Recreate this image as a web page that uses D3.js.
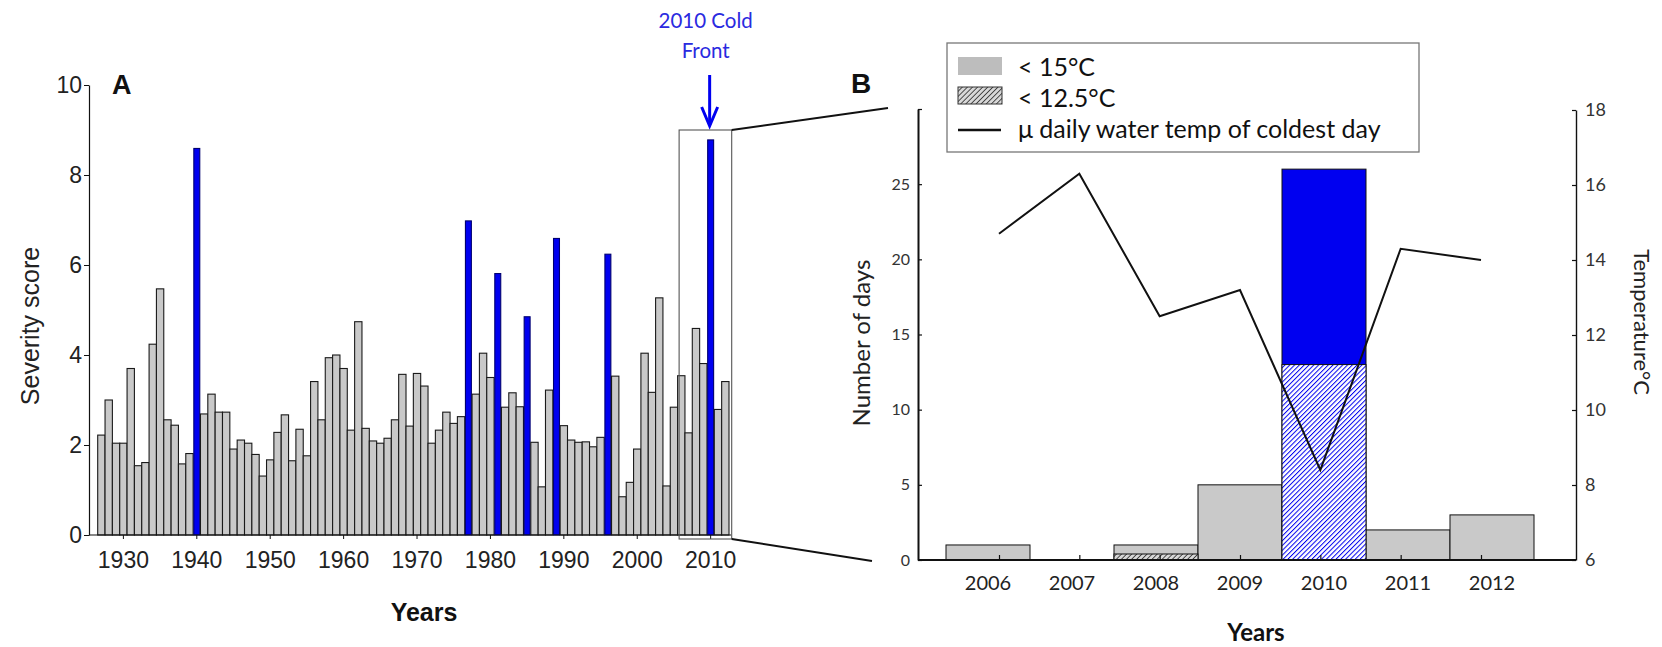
<!DOCTYPE html>
<html>
<head>
<meta charset="utf-8">
<script src="https://cdn.jsdelivr.net/npm/d3@7"></script>
<style>
  html, body { margin: 0; padding: 0; background: #fff; }
  svg { display: block; }
</style>
</head>
<body>
<svg id="fig" width="1662" height="647"></svg>
<script>
// ---- Panel A: annual cold-front severity score ----
const years = [1927, 1928, 1929, 1930, 1931, 1932, 1933, 1934, 1935, 1936, 1937, 1938, 1939,
  1940, 1941, 1942, 1943, 1944, 1945, 1946, 1947, 1948, 1949, 1950, 1951, 1952, 1953, 1954,
  1955, 1956, 1957, 1958, 1959, 1960, 1961, 1962, 1963, 1964, 1965, 1966, 1967, 1968, 1969,
  1970, 1971, 1972, 1973, 1974, 1975, 1976, 1977, 1978, 1979, 1980, 1981, 1982, 1983, 1984,
  1985, 1986, 1987, 1988, 1989, 1990, 1991, 1992, 1993, 1994, 1995, 1996, 1997, 1998, 1999,
  2000, 2001, 2002, 2003, 2004, 2005, 2006, 2007, 2008, 2009, 2010, 2011, 2012];
const severity = [2.22, 3.00, 2.04, 2.04, 3.70, 1.54, 1.61, 4.24, 5.47, 2.56, 2.44, 1.58, 1.81,
  8.59, 2.69, 3.13, 2.73, 2.73, 1.91, 2.11, 2.04, 1.79, 1.31, 1.67, 2.28, 2.67, 1.65, 2.35,
  1.76, 3.41, 2.56, 3.94, 4.00, 3.70, 2.33, 4.74, 2.37, 2.09, 2.04, 2.15, 2.56, 3.57, 2.42,
  3.59, 3.31, 2.04, 2.33, 2.73, 2.48, 2.63, 6.98, 3.13, 4.04, 3.50, 5.81, 2.84, 3.16, 2.85,
  4.85, 2.06, 1.07, 3.22, 6.59, 2.43, 2.11, 2.06, 2.07, 1.96, 2.17, 6.24, 3.53, 0.85, 1.17,
  1.91, 4.04, 3.17, 5.27, 1.09, 2.84, 3.54, 2.27, 4.59, 3.81, 8.78, 2.79, 3.41];
const frontYears = [1940, 1977, 1981, 1985, 1989, 1996, 2010];
const severityTicks = [0, 2, 4, 6, 8, 10];
const decadeTicks = [1930, 1940, 1950, 1960, 1970, 1980, 1990, 2000, 2010];
const zoomYears = [2006, 2012];

// ---- Panel B: cold days per year and coldest-day water temperature ----
const yearsB = [2006, 2007, 2008, 2009, 2010, 2011, 2012];
const daysBelow15 = [1, 0, 1, 5, 26, 2, 3];
const daysBelow125 = [0, 0, 0.4, 0, 13, 0, 0];
const coldestTemp = [14.7, 16.3, 12.5, 13.2, 8.4, 14.3, 14.0];
const dayTicks = [0, 5, 10, 15, 20, 25, 30];
const tempTicks = [6, 8, 10, 12, 14, 16, 18];
const legendLabels = ["< 15°C", "< 12.5°C", "μ daily water temp of coldest day"];

const BLUE = "#0000f0";
const GREY = "#c9c9c9";
const arial = "'Liberation Sans', Arial, sans-serif";
const calib = "Lato, 'Open Sans', sans-serif";

const svg = d3.select("#fig");
svg.append("rect").attr("width", 1662).attr("height", 647).attr("fill", "#fff");

// hatch patterns
const defs = svg.append("defs");
function hatch(id, color, bg, step, w) {
  const p = defs.append("pattern").attr("id", id)
    .attr("patternUnits", "userSpaceOnUse")
    .attr("width", step).attr("height", step)
    .attr("patternTransform", "rotate(45)");
  p.append("rect").attr("width", step).attr("height", step).attr("fill", bg);
  p.append("line").attr("x1", 0).attr("y1", 0).attr("x2", 0).attr("y2", step)
    .attr("stroke", color).attr("stroke-width", w);
}
hatch("hatchBlue", BLUE, "#fff", 3.4, 2.0);
hatch("hatchBlack", "#111", "#d8d8d8", 3.6, 1.4);

// =================== Panel A ===================
const gA = svg.append("g");
const xA = d3.scaleBand().domain(years).range([97.7, 729]).padding(0);
const yA = d3.scaleLinear().domain([0, 10]).range([535, 85]);
const isFront = y => frontYears.includes(y);

gA.selectAll("rect.bar").data(years.map((y, i) => ({ year: y, v: severity[i] })))
  .join("rect")
  .attr("class", "bar")
  .attr("x", d => isFront(d.year) ? xA(d.year) + 0.7 : xA(d.year))
  .attr("width", d => isFront(d.year) ? xA.bandwidth() - 1.4 : xA.bandwidth())
  .attr("y", d => yA(d.v))
  .attr("height", d => yA(0) - yA(d.v))
  .attr("fill", d => isFront(d.year) ? BLUE : GREY)
  .attr("stroke", d => isFront(d.year) ? "#000070" : "#1a1a1a")
  .attr("stroke-width", 1.1);

// y axis
const axA = gA.append("g").attr("transform", "translate(89,0)")
  .call(d3.axisLeft(yA).tickValues(severityTicks).tickSize(5).tickSizeOuter(0).tickPadding(2));
axA.select(".domain").attr("stroke", "#111").attr("stroke-width", 1.2);
axA.selectAll(".tick line").attr("stroke", "#111");
axA.selectAll("text").attr("font-family", arial).attr("font-size", 23).attr("fill", "#222");

// x axis
gA.append("line").attr("x1", 89).attr("x2", 731).attr("y1", yA(0)).attr("y2", yA(0))
  .attr("stroke", "#111").attr("stroke-width", 1.2);
const axAx = gA.append("g").attr("transform", `translate(0,${yA(0)})`)
  .call(d3.axisBottom(xA).tickValues(decadeTicks).tickSize(4).tickPadding(13));
axAx.select(".domain").remove();
axAx.selectAll(".tick line").attr("stroke", "#111");
axAx.selectAll("text").attr("font-family", arial).attr("font-size", 23).attr("fill", "#222");

gA.append("text").attr("x", 424).attr("y", 621).attr("text-anchor", "middle")
  .attr("font-family", arial).attr("font-weight", "bold").attr("font-size", 25)
  .attr("fill", "#111").text("Years");
gA.append("text").attr("transform", "translate(39,326) rotate(-90)")
  .attr("text-anchor", "middle").attr("font-family", arial).attr("font-size", 25)
  .attr("fill", "#222").text("Severity score");
gA.append("text").attr("x", 112).attr("y", 94)
  .attr("font-family", arial).attr("font-weight", "bold").attr("font-size", 27)
  .attr("fill", "#111").text("A");

// zoom box around the years shown in panel B
const boxL = xA(zoomYears[0]) + 1.5, boxR = xA(zoomYears[1]) + xA.bandwidth() + 2.7;
const boxT = 130, boxB = yA(0) + 4;
gA.append("rect").attr("x", boxL).attr("y", boxT).attr("width", boxR - boxL).attr("height", boxB - boxT)
  .attr("fill", "none").attr("stroke", "#555").attr("stroke-width", 1.1);

// connectors to panel B
gA.append("line").attr("x1", boxR).attr("y1", boxT).attr("x2", 888).attr("y2", 108)
  .attr("stroke", "#111").attr("stroke-width", 2);
gA.append("line").attr("x1", boxR).attr("y1", boxB).attr("x2", 872).attr("y2", 561)
  .attr("stroke", "#111").attr("stroke-width", 2);

// annotation
const ax2010 = xA(2010) + xA.bandwidth() / 2 - 1;
gA.append("text").attr("x", ax2010 - 4).attr("y", 28).attr("text-anchor", "middle")
  .attr("font-family", calib).attr("font-size", 20.5).attr("fill", "#2a2ae0").text("2010 Cold");
gA.append("text").attr("x", ax2010 - 4).attr("y", 58).attr("text-anchor", "middle")
  .attr("font-family", calib).attr("font-size", 20.5).attr("fill", "#2a2ae0").text("Front");
gA.append("line").attr("x1", ax2010).attr("x2", ax2010).attr("y1", 75).attr("y2", 125)
  .attr("stroke", BLUE).attr("stroke-width", 3);
gA.append("path").attr("d", `M${ax2010 - 8},${107} L${ax2010},${126} L${ax2010 + 8},${107}`)
  .attr("fill", "none").attr("stroke", BLUE).attr("stroke-width", 3);

// =================== Panel B ===================
const gB = svg.append("g");
const xBar = d3.scaleBand().domain(yearsB).range([946, 1534]).padding(0);
const xPt = d3.scalePoint().domain(yearsB).range([999, 1481]);
const yDays = d3.scaleLinear().domain([0, 30]).range([560, 109]);
const yTemp = d3.scaleLinear().domain([6, 18]).range([560, 110]);

const rowsB = yearsB.map((y, i) => ({ year: y, d15: daysBelow15[i], d125: daysBelow125[i], t: coldestTemp[i] }));

gB.selectAll("rect.d15").data(rowsB.filter(d => d.d15 > 0)).join("rect")
  .attr("class", "d15")
  .attr("x", d => xBar(d.year)).attr("width", xBar.bandwidth())
  .attr("y", d => yDays(d.d15)).attr("height", d => yDays(0) - yDays(d.d15))
  .attr("fill", d => isFront(d.year) ? BLUE : GREY)
  .attr("stroke", "#111").attr("stroke-width", 1);

gB.selectAll("rect.d125").data(rowsB.filter(d => d.d125 > 0)).join("rect")
  .attr("class", "d125")
  .attr("x", d => xBar(d.year)).attr("width", xBar.bandwidth())
  .attr("y", d => yDays(d.d125)).attr("height", d => yDays(0) - yDays(d.d125))
  .attr("fill", d => isFront(d.year) ? "url(#hatchBlue)" : "url(#hatchBlack)")
  .attr("stroke", "#111").attr("stroke-width", 1);

// temperature line
gB.append("path").datum(rowsB)
  .attr("d", d3.line().x(d => xPt(d.year)).y(d => yTemp(d.t)))
  .attr("fill", "none").attr("stroke", "#111").attr("stroke-width", 2);

// left axis (days)
const axDays = gB.append("g").attr("transform", "translate(918,0)")
  .call(d3.axisRight(yDays).tickValues(dayTicks).tickSize(4).tickSizeOuter(0)
    .tickFormat(d => d === 30 ? "" : d));
axDays.select(".domain").attr("stroke", "#111").attr("stroke-width", 2);
axDays.selectAll(".tick line").attr("stroke", "#111").attr("stroke-width", 1.2);
axDays.selectAll("text").attr("x", -8).attr("text-anchor", "end")
  .attr("font-family", calib).attr("font-size", 16).attr("fill", "#333");

// right axis (temperature)
const axTemp = gB.append("g").attr("transform", "translate(1576,0)")
  .call(d3.axisLeft(yTemp).tickValues(tempTicks).tickSize(4).tickSizeOuter(0));
axTemp.select(".domain").attr("stroke", "#111").attr("stroke-width", 1.4);
axTemp.selectAll(".tick line").attr("stroke", "#111").attr("stroke-width", 1.2);
axTemp.selectAll("text").attr("x", 9).attr("text-anchor", "start")
  .attr("font-family", calib).attr("font-size", 18).attr("fill", "#333");

// bottom axis
gB.append("line").attr("x1", 918).attr("x2", 1576).attr("y1", 560).attr("y2", 560)
  .attr("stroke", "#111").attr("stroke-width", 2.2);
const axYr = gB.append("g").attr("transform", "translate(0,560)")
  .call(d3.axisTop(xPt).tickSize(5).tickFormat(""));
axYr.select(".domain").remove();
axYr.selectAll(".tick line").attr("stroke", "#111").attr("stroke-width", 1.2);
const axYrLab = gB.append("g").attr("transform", "translate(0,560)")
  .call(d3.axisBottom(xBar).tickSize(0).tickPadding(16));
axYrLab.select(".domain").remove();
axYrLab.selectAll("text").attr("font-family", calib).attr("font-size", 20).attr("fill", "#222");

gB.append("text").attr("transform", "translate(870,343) rotate(-90)")
  .attr("text-anchor", "middle").attr("font-family", calib).attr("font-size", 24)
  .attr("fill", "#222").text("Number of days");
gB.append("text").attr("transform", "translate(1634,322) rotate(90)")
  .attr("text-anchor", "middle").attr("font-family", calib).attr("font-size", 22)
  .attr("fill", "#222").text("Temperature°C");
gB.append("text").attr("x", 1256).attr("y", 641).attr("text-anchor", "middle")
  .attr("font-family", calib).attr("font-weight", "bold").attr("font-size", 24)
  .attr("fill", "#111").text("Years");
gB.append("text").attr("x", 851).attr("y", 93)
  .attr("font-family", arial).attr("font-weight", "bold").attr("font-size", 28)
  .attr("fill", "#111").text("B");

// legend
const lg = gB.append("g");
lg.append("rect").attr("x", 947).attr("y", 43).attr("width", 472).attr("height", 109)
  .attr("fill", "#fff").attr("stroke", "#777").attr("stroke-width", 1.3);
lg.append("rect").attr("x", 958).attr("y", 57).attr("width", 44).attr("height", 18).attr("fill", "#bdbdbd");
lg.append("rect").attr("x", 958).attr("y", 87).attr("width", 44).attr("height", 17)
  .attr("fill", "url(#hatchBlack)").attr("stroke", "#333").attr("stroke-width", 1);
lg.append("line").attr("x1", 958).attr("x2", 1001).attr("y1", 130).attr("y2", 130)
  .attr("stroke", "#111").attr("stroke-width", 2.5);
lg.selectAll("text").data(legendLabels).join("text")
  .attr("x", 1018).attr("y", (d, i) => [66, 97, 128][i])
  .attr("dominant-baseline", "central")
  .attr("font-family", calib).attr("font-size", 25).attr("fill", "#111")
  .text(d => d);
</script>
</body>
</html>
